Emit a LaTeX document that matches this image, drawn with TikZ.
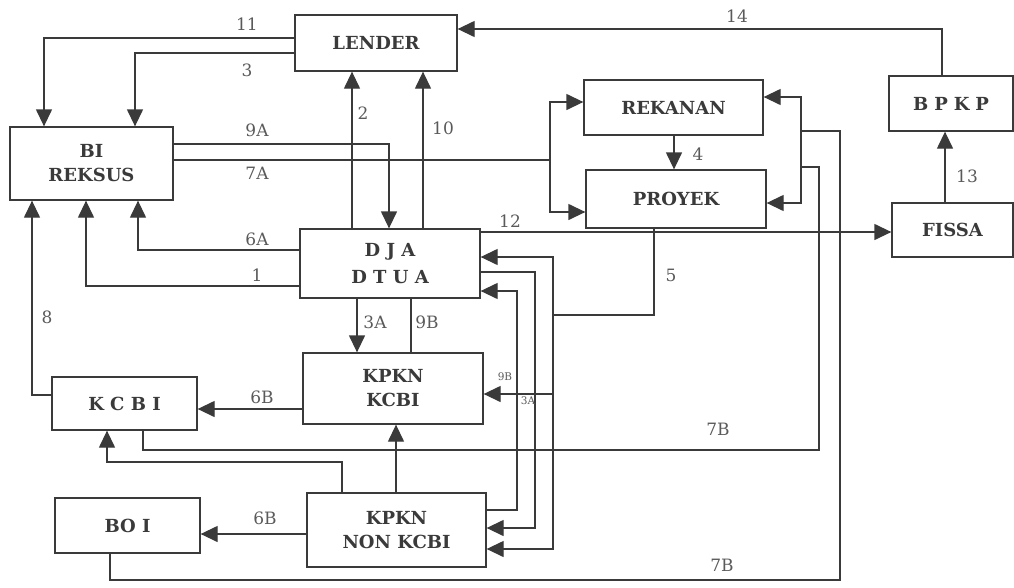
\documentclass[tikz,border=0pt]{standalone}
\usepackage{fontspec}
\setmainfont{DejaVu Serif}
\usetikzlibrary{arrows.meta}
\definecolor{ln}{HTML}{3A3A3A}
\definecolor{lb}{HTML}{5A5A5A}
\begin{document}
\begin{tikzpicture}[x=1pt,y=-1pt,
  box/.style={draw=ln, line width=1.3pt, inner sep=0pt, align=center, text=ln,
    font=\bfseries\fontsize{18}{24}\selectfont},
  lab/.style={text=lb, inner sep=0pt, font=\fontsize{17}{18}\selectfont},
  slab/.style={text=lb, inner sep=0pt, font=\fontsize{10.5}{11}\selectfont},
  conn/.style={draw=ln, line width=1.3pt},
  arr/.style={conn, -{Triangle[length=17pt,width=16pt]}},
  darr/.style={conn, {Triangle[length=17pt,width=16pt]}-{Triangle[length=17pt,width=16pt]}}
]
\useasboundingbox (0,0) rectangle (1014,587);
% boxes
\node[box, minimum width=162pt, minimum height=56pt] (lender) at (376,43) {LENDER};
\node[box, minimum width=163pt, minimum height=73pt] (bi) at (91.5,163.5) {BI\\REKSUS};
\node[box, minimum width=179pt, minimum height=55pt] (rekanan) at (673.5,107.5) {REKANAN};
\node[box, minimum width=180pt, minimum height=58pt] (proyek) at (676,199) {PROYEK};
\node[box, minimum width=124pt, minimum height=55pt] (bpkp) at (951,103.5) {B\,\,P\,\,K\,\,P};
\node[box, minimum width=121pt, minimum height=54pt] (fissa) at (952.5,230) {FISSA};
\node[box, minimum width=180pt, minimum height=69pt] (dja) at (390,263.5) {D J A\\[3pt]D T U A};
\node[box, minimum width=180pt, minimum height=71pt] (kpkn) at (393,388.5) {KPKN\\KCBI};
\node[box, minimum width=145pt, minimum height=53pt] (kcbi) at (124.5,403.5) {K C B I};
\node[box, minimum width=145pt, minimum height=55pt] (boi) at (127.5,525.5) {BO I};
\node[box, minimum width=179pt, minimum height=74pt] (non) at (396.5,530) {KPKN\\NON KCBI};
% junctions
\coordinate (j7a) at (550,160);
\coordinate (j5) at (553,315);
\coordinate (bus) at (801,150);
% LENDER -> BI
\draw[arr] (lender.west|-0,38) -| (bi.north-|44,0);
\draw[arr] (lender.west|-0,53) -| (bi.north-|135,0);
% 9A
\draw[arr] (bi.east|-0,144) -| (dja.north-|389,0);
% 7A
\draw[conn] (bi.east|-j7a) -- (j7a);
\draw[arr] (j7a) |- (rekanan.west|-0,102);
\draw[arr] (j7a) |- (proyek.west|-0,212);
% 2, 10
\draw[arr] (dja.north-|352,0) -- (lender.south-|352,0);
\draw[arr] (dja.north-|423,0) -- (lender.south-|423,0);
% 4
\draw[arr] (rekanan.south-|674,0) -- (proyek.north-|674,0);
% 6A, 1, 8
\draw[arr] (dja.west|-0,250) -| (bi.south-|138,0);
\draw[arr] (dja.west|-0,286) -| (bi.south-|86,0);
\draw[arr] (kcbi.west|-0,395) -| (bi.south-|32,0);
% 12, 13, 14
\draw[arr] (dja.east|-0,232) -- (fissa.west|-0,232);
\draw[arr] (fissa.north-|945,0) -- (bpkp.south-|945,0);
\draw[arr] (bpkp.north-|942,0) |- (lender.east|-0,29);
% 5
\draw[conn] (proyek.south-|654,0) |- (j5);
\draw[arr] (j5) |- (dja.east|-0,257);
\draw[arr] (j5) |- (kpkn.east|-0,394);
\draw[arr] (j5) |- (non.east|-0,549);
% right 3A and 9B
\draw[arr] (dja.east|-0,272) -| (535,400) |- (non.east|-0,528);
\draw[arr] (non.east|-0,510) -| (517,400) |- (dja.east|-0,291);
% centre 3A, 9B
\draw[arr] (dja.south-|357,0) -- (kpkn.north-|357,0);
\draw[conn] (kpkn.north-|411,0) -- (dja.south-|411,0);
% 6B
\draw[arr] (kpkn.west|-0,409) -- (kcbi.east|-0,409);
\draw[arr] (non.west|-0,534) -- (boi.east|-0,534);
% NON -> KPKN, NON -> KCBI
\draw[arr] (non.north-|396,0) -- (kpkn.south-|396,0);
\draw[arr] (non.north-|342,0) |- (107,462) -- (kcbi.south-|107,0);
% 7B
\draw[conn] (kcbi.south-|143,0) |- (819,450) |- (bus|-0,167);
\draw[conn] (boi.south-|110,0) |- (840,580) |- (bus|-0,131);
\draw[darr] (rekanan.east|-0,97) -| (bus) |- (proyek.east|-0,203);
% labels
\node[lab] (l11) at (247,24) {11};
\node[lab] (l3) at (247,70) {3};
\node[lab] (l9a) at (257,130) {9A};
\node[lab] (l7a) at (257,173) {7A};
\node[lab] (l2) at (363,113) {2};
\node[lab] (l10) at (443,128) {10};
\node[lab] (l6a) at (257,239) {6A};
\node[lab] (l1) at (257,275) {1};
\node[lab] (l12) at (510,221) {12};
\node[lab] (l14) at (737,16) {14};
\node[lab] (l13) at (967,176) {13};
\node[lab] (l4) at (698,154) {4};
\node[lab] (l5) at (671,275) {5};
\node[lab] (l8) at (47,317) {8};
\node[lab] (l3a) at (375,322) {3A};
\node[lab] (l9b) at (427,322) {9B};
\node[lab] (l6b1) at (262,397) {6B};
\node[lab] (l6b2) at (265,518) {6B};
\node[lab] (l7b1) at (718,429) {7B};
\node[lab] (l7b2) at (722,565) {7B};
\node[slab] (s9b) at (505,377) {9B};
\node[slab] (s3a) at (528,401) {3A};
\end{tikzpicture}
\end{document}
